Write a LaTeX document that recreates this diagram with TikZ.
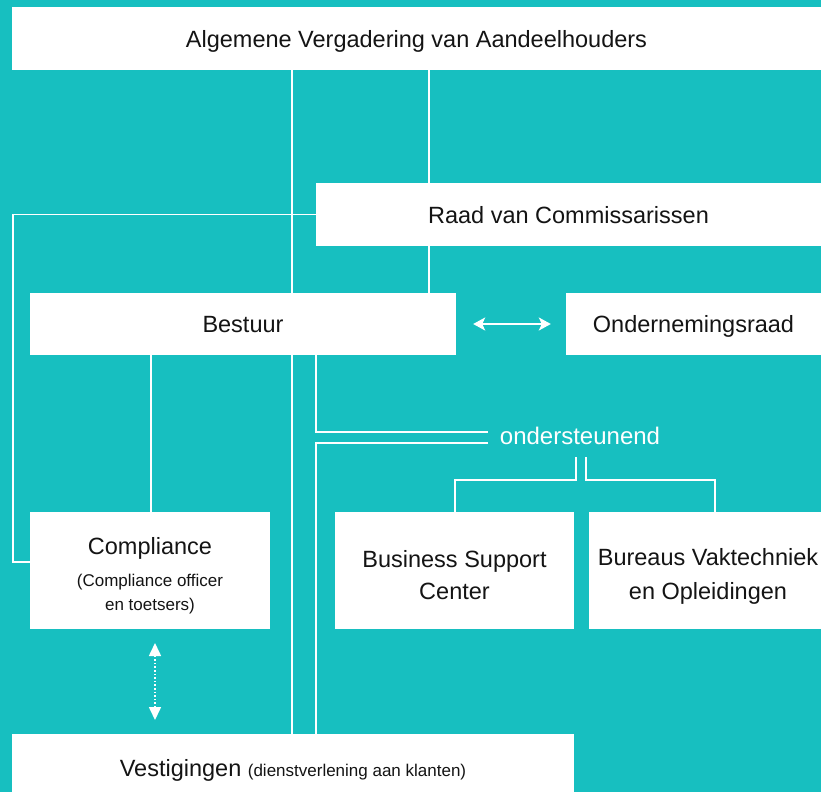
\documentclass[tikz,border=0pt]{standalone}
\usepackage{fontspec}
\setmainfont{Liberation Sans}
\usetikzlibrary{arrows.meta,calc}
\definecolor{teal1}{RGB}{23,191,192}
\definecolor{txt}{RGB}{20,20,20}
\begin{document}
\begin{tikzpicture}[x=1pt,y=-1pt,
  box/.style={fill=white,draw=none,inner sep=0pt,text=txt,align=center,text depth=0pt,font=\fontsize{23.5}{33}\selectfont},
  lbl/.style={inner sep=0pt,text=txt,align=center,font=\fontsize{23.5}{33}\selectfont},
  conn/.style={draw=white,line width=1.5pt}]
\fill[teal1] (0,0) rectangle (821,792);
\useasboundingbox (0,0) rectangle (821,792);
% boxes
\node[box,minimum width=809pt,minimum height=63pt] (top) at (416.5,38.5) {Algemene Vergadering van Aandeelhouders};
\node[box,minimum width=505pt,minimum height=63pt] (raad) at (568.5,214.5) {Raad van Commissarissen};
\node[box,minimum width=426pt,minimum height=62pt] (bestuur) at (243,324) {Bestuur};
\node[box,minimum width=255pt,minimum height=62pt] (or) at (693.5,324) {Ondernemingsraad};
\node[box,minimum width=240pt,minimum height=117pt] (comp) at (150,570.5) {};
\node[lbl] (compt) at (150,548) {Compliance};
\node[lbl,font=\fontsize{17}{24}\selectfont] (comps) at (150,594) {(Compliance officer\\en toetsers)};
\node[box,minimum width=239pt,minimum height=117pt] (bsc) at (454.5,570.5) {};
\node[lbl,font=\fontsize{23.5}{32}\selectfont] (bsct) at (454.5,575) {Business Support\\Center};
\node[box,minimum width=232pt,minimum height=117pt] (bvo) at (705,570.5) {};
\node[lbl,font=\fontsize{23.5}{34}\selectfont] (bvot) at (708,576) {Bureaus Vaktechniek\\en Opleidingen};
\node[box,text height=27pt,minimum width=562pt,minimum height=58pt] (vest) at (293,763) {Vestigingen {\fontsize{17}{20}\selectfont(dienstverlening aan klanten)}};
\node[text=white,font=\fontsize{24}{28}\selectfont,inner sep=0pt] (ond) at (580,436) {ondersteunend};
% coordinates
\coordinate (xa) at (292,0);
\coordinate (xb) at (429,0);
\coordinate (xc) at (151,0);
\coordinate (L1) at (13,562);
\coordinate (u1) at (316,432);
\coordinate (u2) at (488,432);
\coordinate (l1) at (488,443);
\coordinate (l2) at (316,443);
\coordinate (s1) at (576,457);
\coordinate (s2) at (455,480);
\coordinate (t1) at (586,457);
\coordinate (t2) at (715,480);
\coordinate (d1) at (155,643);
\coordinate (d2) at (155,720);
% connectors
\draw[conn] (top.south -| xa) -- (bestuur.north -| xa);
\draw[conn] (bestuur.south -| xa) -- (vest.north -| xa);
\draw[conn] (top.south -| xb) -- (raad.north -| xb);
\draw[conn] (raad.south -| xb) -- (bestuur.north -| xb);
\draw[conn] (raad.west) -| (L1) -- (L1 -| comp.west);
\draw[conn] (bestuur.south -| xc) -- (comp.north -| xc);
\draw[conn] (bestuur.south -| u1) -- (u1) -- (u2);
\draw[conn] (l1) -- (l2) -- (vest.north -| l2);
\draw[conn] (s1) |- (s2) -- (bsc.north -| s2);
\draw[conn] (t1) |- (t2) -- (bvo.north -| t2);
\draw[draw=white,line width=2pt,{Stealth[length=12pt,width=13pt,inset=3pt]}-{Stealth[length=12pt,width=13pt,inset=3pt]}] ($(bestuur.east)+(17,0)$) -- ($(or.west)+(-15,0)$);
\draw[draw=white,line width=1.6pt,dotted,{Triangle[length=13pt,width=12pt]}-{Triangle[length=13pt,width=12pt]}] (d1) -- (d2);
\end{tikzpicture}
\end{document}
